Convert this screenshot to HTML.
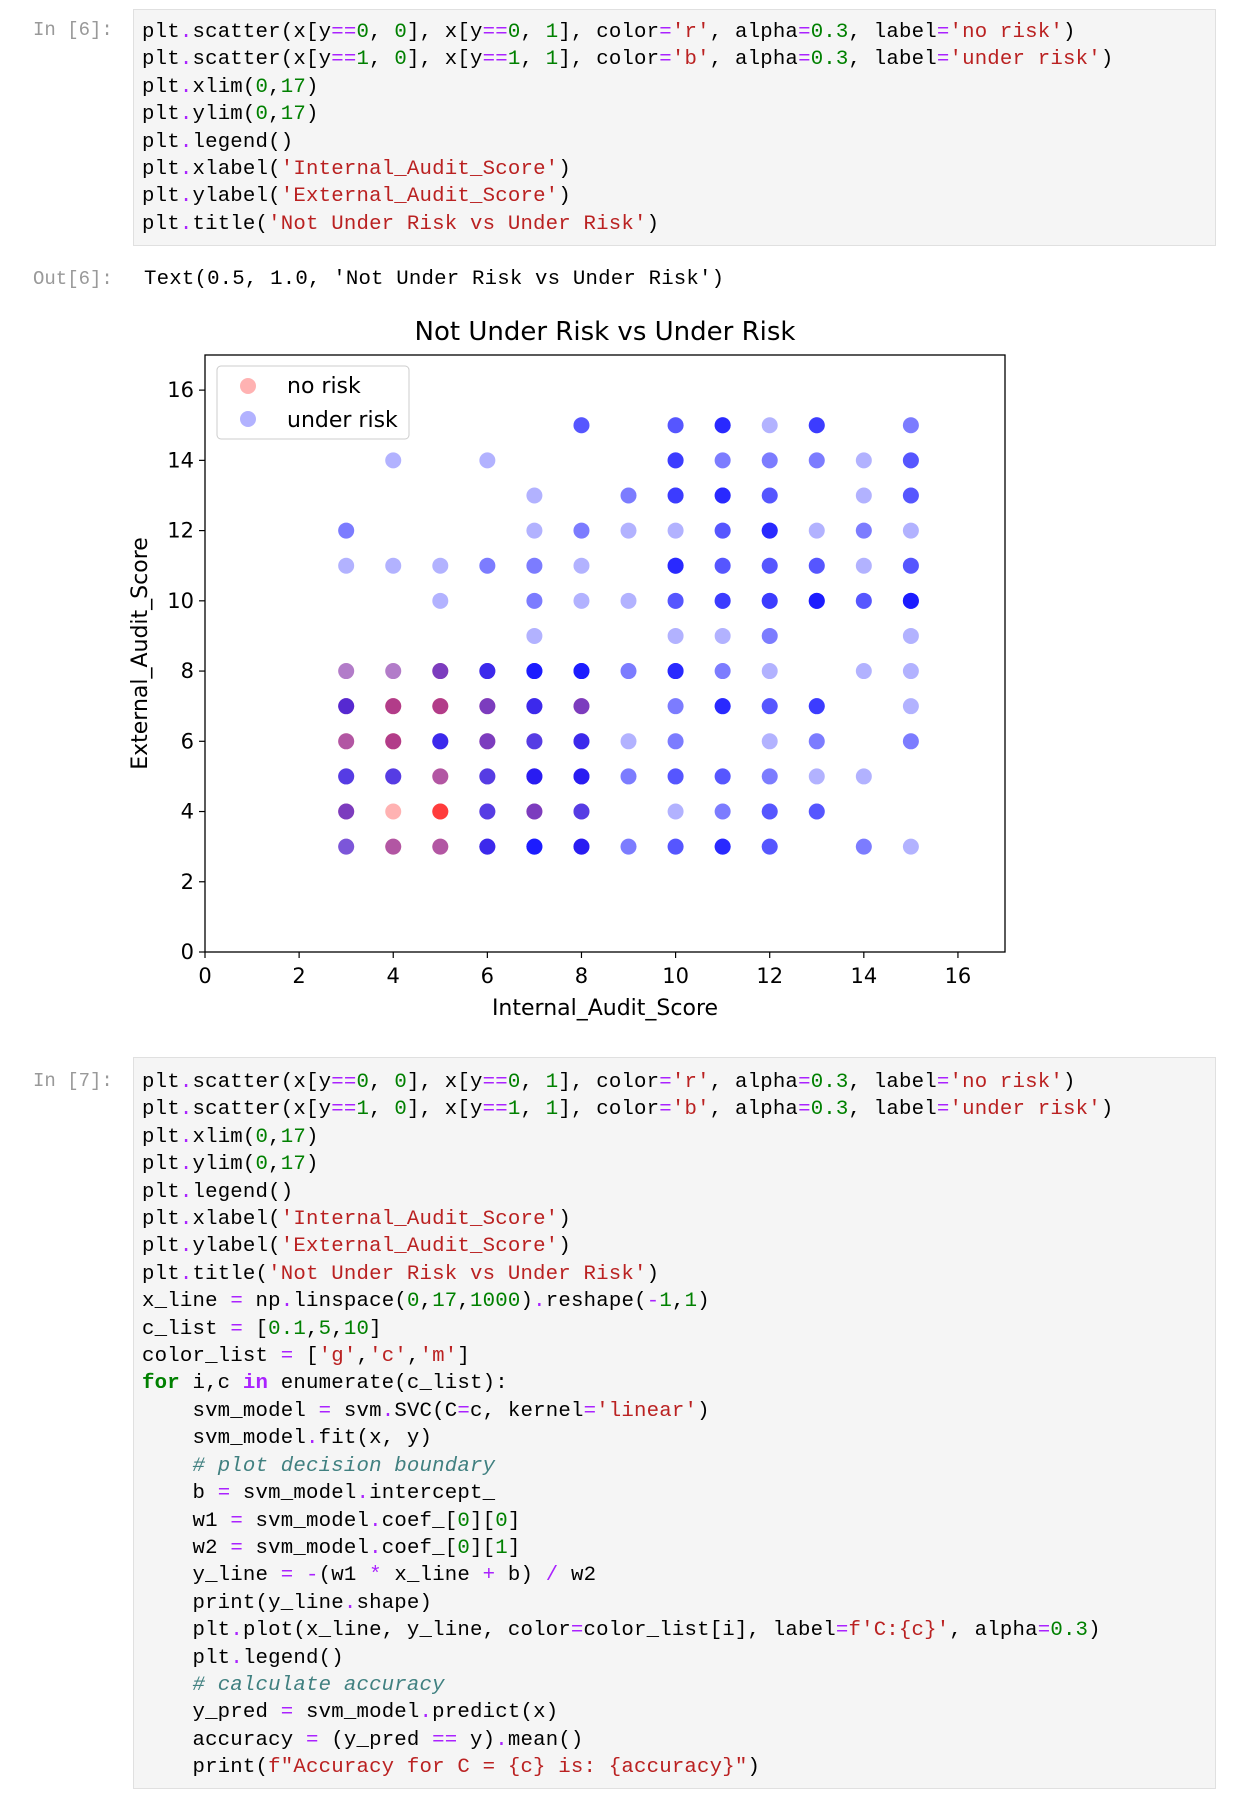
<!DOCTYPE html>
<html><head><meta charset="utf-8"><style>
body{margin:0;background:#fff;width:1238px;height:1808px;overflow:hidden;position:relative;font-family:"Liberation Mono",monospace;}
.prompt{position:absolute;left:33px;font-family:"Liberation Mono",monospace;font-size:19px;color:#999;}
.cell{position:absolute;left:133px;width:1083px;background:#f5f5f5;border:1px solid #e0e0e0;box-sizing:border-box;}
pre{margin:0;padding-left:8px;font-family:"Liberation Mono",monospace;font-size:20.7px;letter-spacing:0.2px;line-height:27.4px;color:#000;white-space:pre;}
.o{color:#aa22ff}.n{color:#008000}.s{color:#ba2121}.k{color:#008000;font-weight:bold}.c{color:#408080;font-style:italic}.ow{color:#aa22ff;font-weight:bold}
</style></head><body>
<div class="prompt" style="top:19px">In [6]:</div>
<div class="cell" style="top:9px;height:237px"><pre style="padding-top:9px">plt<span class="o">.</span>scatter(x[y<span class="o">==</span><span class="n">0</span>, <span class="n">0</span>], x[y<span class="o">==</span><span class="n">0</span>, <span class="n">1</span>], color<span class="o">=</span><span class="s">'r'</span>, alpha<span class="o">=</span><span class="n">0.3</span>, label<span class="o">=</span><span class="s">'no risk'</span>)
plt<span class="o">.</span>scatter(x[y<span class="o">==</span><span class="n">1</span>, <span class="n">0</span>], x[y<span class="o">==</span><span class="n">1</span>, <span class="n">1</span>], color<span class="o">=</span><span class="s">'b'</span>, alpha<span class="o">=</span><span class="n">0.3</span>, label<span class="o">=</span><span class="s">'under risk'</span>)
plt<span class="o">.</span>xlim(<span class="n">0</span>,<span class="n">17</span>)
plt<span class="o">.</span>ylim(<span class="n">0</span>,<span class="n">17</span>)
plt<span class="o">.</span>legend()
plt<span class="o">.</span>xlabel(<span class="s">'Internal_Audit_Score'</span>)
plt<span class="o">.</span>ylabel(<span class="s">'External_Audit_Score'</span>)
plt<span class="o">.</span>title(<span class="s">'Not Under Risk vs Under Risk'</span>)</pre></div>
<div class="prompt" style="top:268px">Out[6]:</div>
<div style="position:absolute;left:144px;top:266px;font-size:20.7px;letter-spacing:0.2px;line-height:27px;white-space:pre">Text(0.5, 1.0, 'Not Under Risk vs Under Risk')</div>

<svg id="chart" style="position:absolute;left:0;top:300px" width="1238" height="730" viewBox="0 300 1238 730" font-family="DejaVu Sans, Liberation Sans, sans-serif"></svg>

<div class="prompt" style="top:1070px">In [7]:</div>
<div class="cell" style="top:1057px;height:732px"><pre style="padding-top:11px">plt<span class="o">.</span>scatter(x[y<span class="o">==</span><span class="n">0</span>, <span class="n">0</span>], x[y<span class="o">==</span><span class="n">0</span>, <span class="n">1</span>], color<span class="o">=</span><span class="s">'r'</span>, alpha<span class="o">=</span><span class="n">0.3</span>, label<span class="o">=</span><span class="s">'no risk'</span>)
plt<span class="o">.</span>scatter(x[y<span class="o">==</span><span class="n">1</span>, <span class="n">0</span>], x[y<span class="o">==</span><span class="n">1</span>, <span class="n">1</span>], color<span class="o">=</span><span class="s">'b'</span>, alpha<span class="o">=</span><span class="n">0.3</span>, label<span class="o">=</span><span class="s">'under risk'</span>)
plt<span class="o">.</span>xlim(<span class="n">0</span>,<span class="n">17</span>)
plt<span class="o">.</span>ylim(<span class="n">0</span>,<span class="n">17</span>)
plt<span class="o">.</span>legend()
plt<span class="o">.</span>xlabel(<span class="s">'Internal_Audit_Score'</span>)
plt<span class="o">.</span>ylabel(<span class="s">'External_Audit_Score'</span>)
plt<span class="o">.</span>title(<span class="s">'Not Under Risk vs Under Risk'</span>)
x_line <span class="o">=</span> np<span class="o">.</span>linspace(<span class="n">0</span>,<span class="n">17</span>,<span class="n">1000</span>)<span class="o">.</span>reshape(<span class="o">-</span><span class="n">1</span>,<span class="n">1</span>)
c_list <span class="o">=</span> [<span class="n">0.1</span>,<span class="n">5</span>,<span class="n">10</span>]
color_list <span class="o">=</span> [<span class="s">'g'</span>,<span class="s">'c'</span>,<span class="s">'m'</span>]
<span class="k">for</span> i,c <span class="ow">in</span> enumerate(c_list):
    svm_model <span class="o">=</span> svm<span class="o">.</span>SVC(C<span class="o">=</span>c, kernel<span class="o">=</span><span class="s">'linear'</span>)
    svm_model<span class="o">.</span>fit(x, y)
    <span class="c"># plot decision boundary</span>
    b <span class="o">=</span> svm_model<span class="o">.</span>intercept_
    w1 <span class="o">=</span> svm_model<span class="o">.</span>coef_[<span class="n">0</span>][<span class="n">0</span>]
    w2 <span class="o">=</span> svm_model<span class="o">.</span>coef_[<span class="n">0</span>][<span class="n">1</span>]
    y_line <span class="o">=</span> <span class="o">-</span>(w1 <span class="o">*</span> x_line <span class="o">+</span> b) <span class="o">/</span> w2
    print(y_line<span class="o">.</span>shape)
    plt<span class="o">.</span>plot(x_line, y_line, color<span class="o">=</span>color_list[i], label<span class="o">=</span><span class="s">f'C:{c}'</span>, alpha<span class="o">=</span><span class="n">0.3</span>)
    plt<span class="o">.</span>legend()
    <span class="c"># calculate accuracy</span>
    y_pred <span class="o">=</span> svm_model<span class="o">.</span>predict(x)
    accuracy <span class="o">=</span> (y_pred <span class="o">==</span> y)<span class="o">.</span>mean()
    print(<span class="s">f"Accuracy for C = {c} is: {accuracy}"</span>)</pre></div>

<script>
const blueX = [8,10,11,12,13,15, 4,6,10,11,12,13,14,15, 7,9,10,11,12,14,15, 3,7,8,9,10,11,12,13,14,15, 3,4,5,6,7,8,10,11,12,13,14,15, 5,7,8,9,10,11,12,13,14,15, 7,10,11,12,15, 3,4,5,6,7,8,9,10,11,12,14,15, 3,4,5,6,7,8,10,11,12,13,15, 3,4,5,6,7,8,9,10,12,13,15, 3,4,5,6,7,8,9,10,11,12,13,14, 3,6,7,8,10,11,12,13, 3,4,5,6,7,8,9,10,11,12,14,15];
const blueY = [15,15,15,15,15,15, 14,14,14,14,14,14,14,14, 13,13,13,13,13,13,13, 12,12,12,12,12,12,12,12,12,12, 11,11,11,11,11,11,11,11,11,11,11,11, 10,10,10,10,10,10,10,10,10,10, 9,9,9,9,9, 8,8,8,8,8,8,8,8,8,8,8,8, 7,7,7,7,7,7,7,7,7,7,7, 6,6,6,6,6,6,6,6,6,6,6, 5,5,5,5,5,5,5,5,5,5,5,5, 4,4,4,4,4,4,4,4, 3,3,3,3,3,3,3,3,3,3,3,3];
const blueCount = [3,3,5,1,4,2, 1,1,4,2,2,2,1,3, 1,2,4,5,3,1,3, 2,1,2,1,1,3,5,1,2,1, 1,1,1,2,2,1,5,3,3,3,1,3, 1,2,1,1,3,4,4,6,3,6, 1,1,1,2,1, 1,1,2,4,6,6,2,5,2,1,1,1, 3,1,1,2,4,2,2,5,3,4,1, 1,1,4,2,3,4,1,2,1,2,2, 3,3,1,3,5,5,2,3,3,2,1,1, 2,3,2,3,1,2,3,3, 2,1,1,4,6,5,2,3,5,3,2,1];
const redX = [3,4,5,6,3,4,5,6,7,8,3,4,5,6,7,8,3,4,5,6,7,8,3,4,5,6,7,8,3,4,5,6,8];
const redY = [8,8,8,8,7,7,7,7,7,7,6,6,6,6,6,6,5,5,5,5,5,5,4,4,4,4,4,4,3,3,3,3,3];
const redCount = [1,1,2,1,2,3,3,2,1,2,2,3,1,2,1,1,1,1,2,1,1,1,2,1,4,1,2,1,1,2,2,1,1];
const xTicks = [0,2,4,6,8,10,12,14,16];
const yTicks = [0,2,4,6,8,10,12,14,16];

const NS='http://www.w3.org/2000/svg';
const svg=document.getElementById('chart');
const L=205,R=1005,T=355,B=952,MAX=17;
const sx=v=>L+(R-L)*v/MAX, sy=v=>B-(B-T)*v/MAX;
function mk(tag,attrs,parent){const e=document.createElementNS(NS,tag);for(const k in attrs)e.setAttribute(k,attrs[k]);(parent||svg).appendChild(e);return e;}

const title=mk('text',{x:(L+R)/2,y:340,'text-anchor':'middle','font-size':26,fill:'#000'});


title.textContent='Not Under Risk vs Under Risk';

const redG=mk('g',{});


redX.forEach((x,i)=>{for(let k=0;k<redCount[i];k++){const c=mk('circle',{cx:sx(x),cy:sy(redY[i]),r:8,fill:'#ff0000','fill-opacity':0.3},redG);

}});
const blueG=mk('g',{});


blueX.forEach((x,i)=>{for(let k=0;k<blueCount[i];k++){const c=mk('circle',{cx:sx(x),cy:sy(blueY[i]),r:8,fill:'#0000ff','fill-opacity':0.3},blueG);

}});

const frame=mk('rect',{x:L,y:T,width:R-L,height:B-T,fill:'none',stroke:'#000','stroke-width':1.3});



xTicks.forEach(t=>{mk('line',{x1:sx(t),x2:sx(t),y1:B,y2:B+6,stroke:'#000','stroke-width':1.2});
const tx=mk('text',{x:sx(t),y:B+31,'text-anchor':'middle','font-size':21,fill:'#000'});


tx.textContent=t;});
yTicks.forEach(t=>{mk('line',{x1:L-6,x2:L,y1:sy(t),y2:sy(t),stroke:'#000','stroke-width':1.2});
const ty=mk('text',{x:L-11,y:sy(t)+7,'text-anchor':'end','font-size':21,fill:'#000'});


ty.textContent=t;});

const xl=mk('text',{x:(L+R)/2,y:1015,'text-anchor':'middle','font-size':22,fill:'#000'});


xl.textContent='Internal_Audit_Score';
const yl=mk('text',{x:0,y:0,'text-anchor':'middle','font-size':22,fill:'#000',transform:`translate(147,${(T+B)/2}) rotate(-90)`});


yl.textContent='External_Audit_Score';

const lg=mk('g',{});


mk('rect',{x:217,y:366,width:192,height:73,rx:4,fill:'#fff','fill-opacity':0.8,stroke:'#ccc'},lg);
mk('circle',{cx:248,cy:386,r:8,fill:'#ff0000','fill-opacity':0.3},lg);
mk('circle',{cx:248,cy:419,r:8,fill:'#0000ff','fill-opacity':0.3},lg);
const l1=mk('text',{x:287,y:393,'font-size':22,fill:'#000'},lg);


l1.textContent='no risk';
const l2=mk('text',{x:287,y:427,'font-size':22,fill:'#000'},lg);


l2.textContent='under risk';
</script>
</body></html>
